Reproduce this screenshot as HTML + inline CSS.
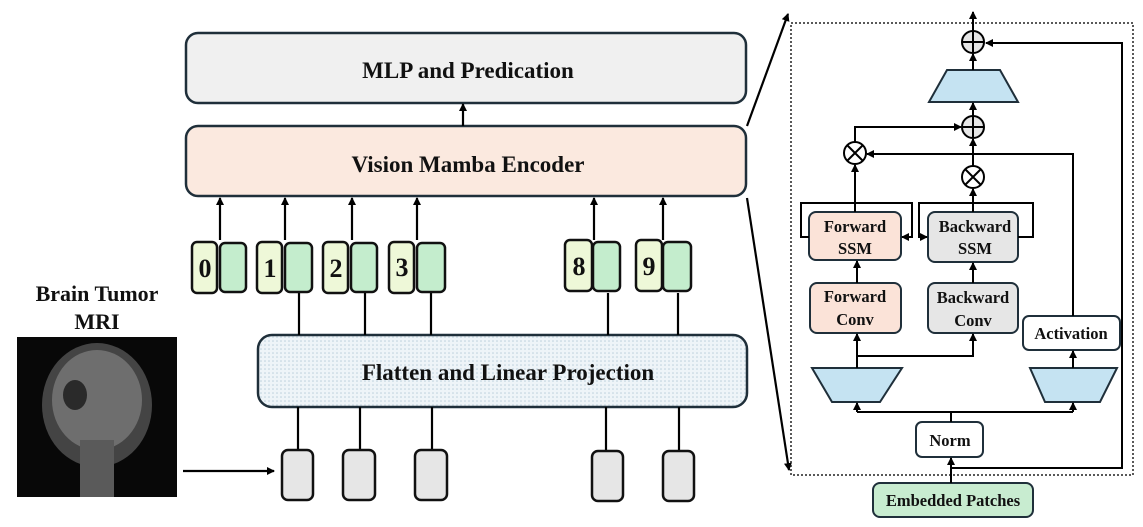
<!DOCTYPE html>
<html><head><meta charset="utf-8"><style>
body{margin:0;background:#fff;width:1143px;height:522px;overflow:hidden}
text{font-family:"Liberation Serif",serif;font-weight:bold;fill:#111}
</style></head><body>
<svg width="1143" height="522" viewBox="0 0 1143 522" xmlns="http://www.w3.org/2000/svg">
<defs>
<marker id="a" markerWidth="8" markerHeight="8" refX="7" refY="4" orient="auto" markerUnits="userSpaceOnUse"><path d="M0,0 L8,4 L0,8 z" fill="#000"/></marker>
<pattern id="dots" width="4" height="4" patternUnits="userSpaceOnUse"><rect width="4" height="4" fill="#eef4f8"/><circle cx="1" cy="1" r="0.8" fill="#bcd0dc"/></pattern>
</defs>
<g stroke="#1f2f3a" stroke-width="2.5">
<rect x="186" y="33" width="560" height="70" rx="12" fill="#f0f0f0"/>
<rect x="186" y="126" width="560" height="70" rx="12" fill="#fbe9df"/>
<rect x="258" y="335" width="489" height="72" rx="14" fill="url(#dots)"/>
</g>
<text x="468" y="78" font-size="23" text-anchor="middle">MLP and Predication</text>
<text x="468" y="172" font-size="23" text-anchor="middle">Vision Mamba Encoder</text>
<text x="508" y="380" font-size="23" text-anchor="middle">Flatten and Linear Projection</text>
<g stroke="#000" stroke-width="2.2" fill="none">
<line x1="463" y1="126" x2="463" y2="104" marker-end="url(#a)"/>
<line x1="220" y1="240" x2="220" y2="198" marker-end="url(#a)"/>
<line x1="285" y1="240" x2="285" y2="198" marker-end="url(#a)"/>
<line x1="352" y1="240" x2="352" y2="198" marker-end="url(#a)"/>
<line x1="417" y1="240" x2="417" y2="198" marker-end="url(#a)"/>
<line x1="594" y1="240" x2="594" y2="198" marker-end="url(#a)"/>
<line x1="663" y1="240" x2="663" y2="198" marker-end="url(#a)"/>
<line x1="299" y1="293" x2="299" y2="335"/><line x1="365" y1="293" x2="365" y2="335"/>
<line x1="431" y1="293" x2="431" y2="335"/><line x1="608" y1="293" x2="608" y2="335"/>
<line x1="678" y1="293" x2="678" y2="335"/>
<line x1="298" y1="407" x2="298" y2="450"/><line x1="360" y1="407" x2="360" y2="450"/>
<line x1="432" y1="407" x2="432" y2="450"/><line x1="606" y1="407" x2="606" y2="450"/>
<line x1="679" y1="407" x2="679" y2="450"/>
<line x1="183" y1="471" x2="274" y2="471" marker-end="url(#a)"/>
<line x1="747" y1="126" x2="788" y2="14" marker-end="url(#a)"/>
<line x1="747" y1="198" x2="789" y2="470" marker-end="url(#a)"/>
</g>
<g stroke="#111" stroke-width="2.5">
<rect x="192" y="242" width="25" height="51" rx="5" fill="#eef8d8"/><rect x="220" y="243" width="26" height="49" rx="5" fill="#c4edcd"/>
<rect x="257" y="242" width="25" height="51" rx="5" fill="#eef8d8"/><rect x="285" y="243" width="27" height="49" rx="5" fill="#c4edcd"/>
<rect x="323" y="242" width="25" height="51" rx="5" fill="#eef8d8"/><rect x="351" y="243" width="26" height="49" rx="5" fill="#c4edcd"/>
<rect x="389" y="242" width="25" height="51" rx="5" fill="#eef8d8"/><rect x="417" y="243" width="28" height="49" rx="5" fill="#c4edcd"/>
<rect x="565" y="240" width="27" height="51" rx="5" fill="#eef8d8"/><rect x="593" y="242" width="27" height="49" rx="5" fill="#c4edcd"/>
<rect x="636" y="240" width="26" height="51" rx="5" fill="#eef8d8"/><rect x="663" y="242" width="28" height="49" rx="5" fill="#c4edcd"/>
<rect x="282" y="450" width="31" height="50" rx="6" fill="#e6e6e6"/><rect x="343" y="450" width="32" height="50" rx="6" fill="#e6e6e6"/>
<rect x="415" y="450" width="32" height="50" rx="6" fill="#e6e6e6"/><rect x="592" y="451" width="31" height="50" rx="6" fill="#e6e6e6"/>
<rect x="663" y="451" width="31" height="50" rx="6" fill="#e6e6e6"/>
</g>
<g font-size="26" text-anchor="middle">
<text x="205" y="277">0</text><text x="270" y="277">1</text><text x="336" y="277">2</text><text x="402" y="276">3</text><text x="579" y="275">8</text><text x="649" y="275">9</text>
</g>
<text x="97" y="301" font-size="22" text-anchor="middle">Brain Tumor</text>
<text x="97" y="329" font-size="22" text-anchor="middle">MRI</text>
<rect x="17" y="337" width="160" height="160" fill="#080808"/>
<ellipse cx="97" cy="405" rx="55" ry="62" fill="#444"/>
<ellipse cx="97" cy="400" rx="45" ry="50" fill="#6e6e6e"/>
<ellipse cx="75" cy="395" rx="12" ry="15" fill="#2a2a2a"/>
<rect x="80" y="440" width="34" height="57" fill="#5a5a5a"/>
<!-- right panel -->
<rect x="791" y="23" width="342" height="452" fill="none" stroke="#222" stroke-width="1.5" stroke-dasharray="2,2"/>
<g stroke="#1f2f3a" stroke-width="2">
<polygon points="947,70 1000,70 1018,102 929,102" fill="#c5e3f2"/>
<polygon points="812,368 902,368 880,402 832,402" fill="#c5e3f2"/>
<polygon points="1030,368 1117,368 1100,402 1045,402" fill="#c5e3f2"/>
<rect x="809" y="212" width="92" height="48" rx="7" fill="#fbe3d8"/>
<rect x="928" y="212" width="90" height="50" rx="7" fill="#e6e6e6"/>
<rect x="810" y="283" width="91" height="50" rx="7" fill="#fbe3d8"/>
<rect x="928" y="283" width="90" height="50" rx="7" fill="#e6e6e6"/>
<rect x="1023" y="316" width="97" height="34" rx="6" fill="#fff"/>
<rect x="916" y="422" width="67" height="35" rx="6" fill="#fff"/>
<rect x="873" y="483" width="160" height="34" rx="7" fill="#c8ecd0"/>
</g>
<g stroke="#000" stroke-width="2" fill="none">
<line x1="951" y1="483" x2="951" y2="458" marker-end="url(#a)"/>
<polyline points="951,468 1122,468 1122,43 986,43" marker-end="url(#a)"/>
<polyline points="951,422 951,412"/>
<polyline points="857,412 1073,412"/>
<line x1="857" y1="412" x2="857" y2="403" marker-end="url(#a)"/>
<line x1="1073" y1="412" x2="1073" y2="403" marker-end="url(#a)"/>
<line x1="857" y1="368" x2="857" y2="334" marker-end="url(#a)"/>
<polyline points="857,356 973,356 973,334" marker-end="url(#a)"/>
<line x1="1073" y1="368" x2="1073" y2="351" marker-end="url(#a)"/>
<polyline points="1073,316 1073,154 867,154" marker-end="url(#a)"/>
<line x1="857" y1="283" x2="857" y2="261" marker-end="url(#a)"/>
<line x1="973" y1="283" x2="973" y2="263" marker-end="url(#a)"/>
<polyline points="809,237 801,237 801,203 912,203 912,237 902,237" marker-end="url(#a)"/>
<polyline points="1018,237 1033,237 1033,203 919,203 919,237 927,237" marker-end="url(#a)"/>
<line x1="855" y1="212" x2="855" y2="165" marker-end="url(#a)"/>
<polyline points="855,142 855,127 961,127" marker-end="url(#a)"/>
<line x1="973" y1="212" x2="973" y2="189" marker-end="url(#a)"/>
<line x1="973" y1="166" x2="973" y2="139" marker-end="url(#a)"/>
<line x1="973" y1="116" x2="973" y2="103" marker-end="url(#a)"/>
<line x1="973" y1="70" x2="973" y2="54" marker-end="url(#a)"/>
<line x1="973" y1="31" x2="973" y2="12" marker-end="url(#a)"/>
</g>
<g stroke="#000" stroke-width="2" fill="#e6e6e6">
<circle cx="973" cy="42" r="11"/><path d="M962,42h22M973,31v22"/>
<circle cx="973" cy="127" r="11"/><path d="M962,127h22M973,116v22"/>
<circle cx="855" cy="153" r="11" fill="#fff"/><path d="M847,145l16,16M863,145l-16,16"/>
<circle cx="973" cy="177" r="11" fill="#fff"/><path d="M965,169l16,16M981,169l-16,16"/>
</g>
<g font-size="16.5" text-anchor="middle">
<text x="855" y="232">Forward</text><text x="855" y="254">SSM</text>
<text x="975" y="232">Backward</text><text x="975" y="254">SSM</text>
<text x="855" y="302">Forward</text><text x="855" y="325">Conv</text>
<text x="973" y="303">Backward</text><text x="973" y="326">Conv</text>
<text x="1071" y="339">Activation</text>
<text x="950" y="446">Norm</text>
<text x="953" y="506">Embedded Patches</text>
</g>
</svg>
</body></html>
